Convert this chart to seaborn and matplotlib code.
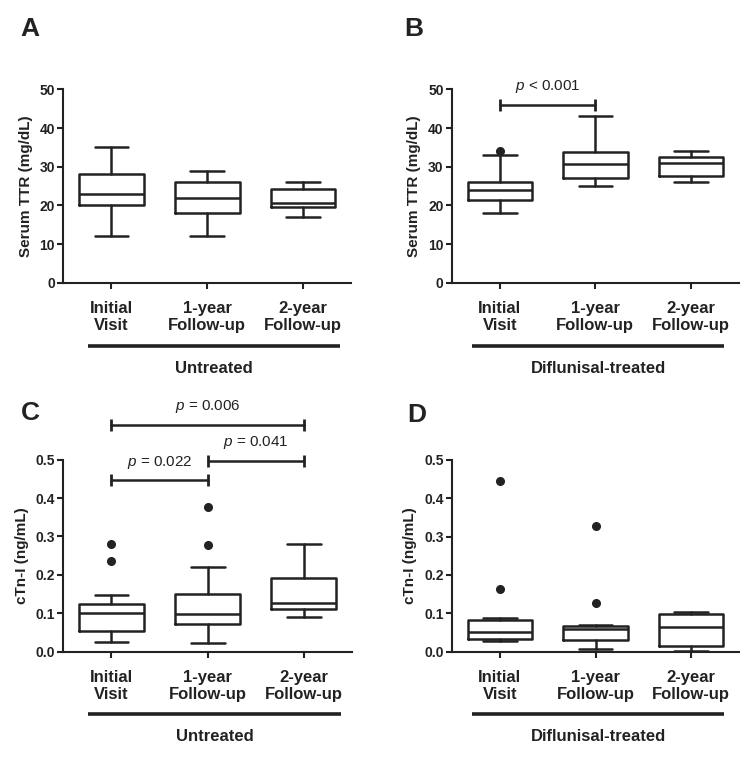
import matplotlib
matplotlib.use("Agg")
import matplotlib.pyplot as plt
import seaborn as sns

sns.set_theme(style="ticks")
plt.rcParams["font.family"] = ["Liberation Sans", "DejaVu Sans"]
plt.rcParams["mathtext.fontset"] = "custom"
plt.rcParams["mathtext.it"] = "Liberation Sans:italic"
plt.rcParams["mathtext.rm"] = "Liberation Sans"

ink = "#222222"

groups = ["Initial\nVisit", "1-year\nFollow-up", "2-year\nFollow-up"]

# Panel A - serum TTR, untreated
a_whislo = [12, 12, 17]
a_q1 = [20, 18, 19.7]
a_med = [23, 22, 20.7]
a_q3 = [28, 26, 24.2]
a_whishi = [35, 29, 26]
a_fliers = [[], [], []]

# Panel B - serum TTR, diflunisal-treated
b_whislo = [18, 25, 26]
b_q1 = [21.3, 27.1, 27.5]
b_med = [24.1, 30.7, 31]
b_q3 = [26, 33.8, 32.6]
b_whishi = [33.1, 43, 34]
b_fliers = [[34.1], [], []]

# Panel C - cTn-I, untreated
c_whislo = [0.024, 0.022, 0.090]
c_q1 = [0.055, 0.071, 0.110]
c_med = [0.101, 0.097, 0.128]
c_q3 = [0.123, 0.149, 0.191]
c_whishi = [0.148, 0.220, 0.280]
c_fliers = [[0.236, 0.280], [0.279, 0.376], []]

# Panel D - cTn-I, diflunisal-treated
d_whislo = [0.028, 0.006, 0.003]
d_q1 = [0.032, 0.030, 0.016]
d_med = [0.0505, 0.060, 0.0645]
d_q3 = [0.082, 0.068, 0.0975]
d_whishi = [0.089, 0.070, 0.1045]
d_fliers = [[0.164, 0.446], [0.126, 0.328], []]

# significance brackets: (from group, to group, height, label)
b_pvals = [(0, 1, 46, "< 0.001")]
c_pvals = [(0, 1, 0.446, "= 0.022"), (1, 2, 0.497, "= 0.041"), (0, 2, 0.590, "= 0.006")]


def make_stats(whislo, q1, med, q3, whishi, fliers):
    return [
        {"whislo": lo, "q1": a, "med": m, "q3": b, "whishi": hi, "fliers": f}
        for lo, a, m, b, hi, f in zip(whislo, q1, med, q3, whishi, fliers)
    ]


def draw_panel(ax, stats, ylim, yticks, yfmt, ylabel, group_label, pvals, line_x):
    lw = 1.8
    ax.bxp(
        stats,
        positions=range(len(groups)),
        widths=0.675,
        capwidths=0.35,
        manage_ticks=False,
        boxprops=dict(color=ink, linewidth=lw),
        medianprops=dict(color=ink, linewidth=lw),
        whiskerprops=dict(color=ink, linewidth=lw),
        capprops=dict(color=ink, linewidth=lw),
        flierprops=dict(marker="o", markerfacecolor=ink, markeredgecolor=ink, markersize=5.5),
    )
    ax.set_xlim(-0.5, 2.5)
    ax.set_ylim(*ylim)
    ax.set_yticks(yticks)
    ax.set_yticklabels([yfmt.format(t) for t in yticks], fontsize=10, fontweight="bold", color=ink)
    ax.set_xticks(range(len(groups)))
    ax.set_xticklabels(groups, fontsize=12, fontweight="bold", color=ink, linespacing=1.15)
    ax.set_ylabel(ylabel, fontsize=11, fontweight="bold", color=ink, labelpad=5)
    ax.tick_params(axis="y", length=4, width=1.5, pad=2, color=ink)
    ax.tick_params(axis="x", length=4, width=1.5, pad=9, color=ink)
    for side in ["left", "bottom"]:
        ax.spines[side].set_linewidth(1.5)
        ax.spines[side].set_color(ink)
    sns.despine(ax=ax)
    ax.set_facecolor("white")

    # group line and label under the tick labels
    ax.plot(line_x, [-0.325, -0.325], transform=ax.transAxes, color=ink,
            linewidth=2.6, clip_on=False, solid_capstyle="butt")
    ax.text(sum(line_x) / 2, -0.442, group_label, transform=ax.transAxes,
            ha="center", va="center", fontsize=12, fontweight="bold", color=ink)

    for x1, x2, y, label in pvals:
        ax.plot([x1, x2], [y, y], color=ink, linewidth=1.8, marker="|",
                markersize=9, markeredgewidth=2, clip_on=False)
        ax.annotate(r"$p$ " + label, xy=((x1 + x2) / 2, y), xytext=(0, 7),
                    textcoords="offset points", ha="center", va="bottom",
                    fontsize=11, color=ink, annotation_clip=False)


fig = plt.figure(figsize=(7.54, 7.59), dpi=100)
fig.patch.set_facecolor("white")
ax_a = fig.add_axes([0.084, 0.6275, 0.3816, 0.2548])
ax_b = fig.add_axes([0.5995, 0.6275, 0.3802, 0.2548])
ax_c = fig.add_axes([0.084, 0.1414, 0.383, 0.253])
ax_d = fig.add_axes([0.5995, 0.1414, 0.3806, 0.2526])

ttr_ticks = [0, 10, 20, 30, 40, 50]
ctn_ticks = [0.0, 0.1, 0.2, 0.3, 0.4, 0.5]

draw_panel(ax_a, make_stats(a_whislo, a_q1, a_med, a_q3, a_whishi, a_fliers),
           (0, 50), ttr_ticks, "{:.0f}", "Serum TTR (mg/dL)", "Untreated", [],
           [0.086, 0.962])
draw_panel(ax_b, make_stats(b_whislo, b_q1, b_med, b_q3, b_whishi, b_fliers),
           (0, 50), ttr_ticks, "{:.0f}", "Serum TTR (mg/dL)", "Diflunisal-treated", b_pvals,
           [0.07, 0.949])
draw_panel(ax_c, make_stats(c_whislo, c_q1, c_med, c_q3, c_whishi, c_fliers),
           (0, 0.5), ctn_ticks, "{:.1f}", "cTn-I (ng/mL)", "Untreated", c_pvals,
           [0.086, 0.962])
draw_panel(ax_d, make_stats(d_whislo, d_q1, d_med, d_q3, d_whishi, d_fliers),
           (0, 0.5), ctn_ticks, "{:.1f}", "cTn-I (ng/mL)", "Diflunisal-treated", [],
           [0.07, 0.949])

for letter, (px, py) in zip("ABCD", [(20, 17), (404, 17), (21, 401), (407, 403)]):
    fig.text(px / 754, 1 - py / 759, letter, fontsize=19, fontweight="bold",
             color=ink, ha="left", va="top")

fig.savefig("out.png", dpi=100, facecolor="white")
